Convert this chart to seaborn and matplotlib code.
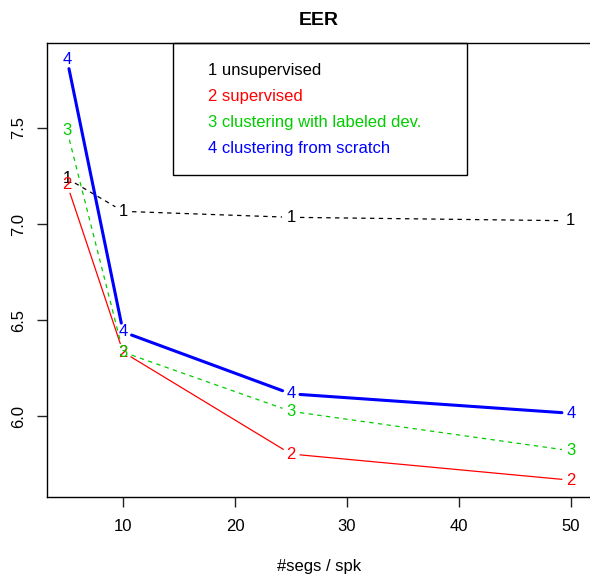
"""
EER vs number of segments per speaker, R matplot-style (type="b") recreated with seaborn.
"""

import numpy as np
import pandas as pd
import matplotlib
matplotlib.use("Agg")
import matplotlib.pyplot as plt
import seaborn as sns

segs_per_spk = [5, 10, 25, 50]
eer_unsupervised = [7.237, 7.066, 7.035, 7.017]
eer_supervised = [7.205, 6.334, 5.804, 5.668]
eer_clust_labeled = [7.484, 6.334, 6.026, 5.821]
eer_clust_scratch = [7.854, 6.439, 6.117, 6.016]

series_names = ["1 unsupervised", "2 supervised",
                "3 clustering with labeled dev.", "4 clustering from scratch"]
series_marks = ["1", "2", "3", "4"]
series_values = [eer_unsupervised, eer_supervised, eer_clust_labeled, eer_clust_scratch]
colors = ["#000000", "#FF0000", "#00CD00", "#0000FF"]
dashes = [(3.5, 3.5), "", (3.5, 3.5), ""]
widths = [0.9, 0.9, 0.9, 2.2]

GAP_PX = 9  # R type="b" leaves a gap round each point label
FS = 12


def pad_range(vals, frac=0.04):
    lo, hi = min(vals), max(vals)
    d = (hi - lo) * frac
    return lo - d, hi + d


def gapped_segments(ax, xs, ys, name):
    """Split a series into segments shortened at both ends (in screen pixels)."""
    rows = []
    pts = ax.transData.transform(np.column_stack([xs, ys]))
    inv = ax.transData.inverted()
    for i in range(len(xs) - 1):
        p0, p1 = pts[i], pts[i + 1]
        v = p1 - p0
        n = np.hypot(*v)
        if n <= 2 * GAP_PX:
            continue
        u = v / n
        a = inv.transform(p0 + u * GAP_PX)
        b = inv.transform(p1 - u * GAP_PX)
        rows.append({"series": name, "seg": f"{name}-{i}", "order": 0, "x": a[0], "y": a[1]})
        rows.append({"series": name, "seg": f"{name}-{i}", "order": 1, "x": b[0], "y": b[1]})
    return rows


def main():
    sns.set_style("ticks")
    plt.rcParams["font.family"] = ["Liberation Sans", "DejaVu Sans"]
    plt.rcParams["text.color"] = "black"
    plt.rcParams["axes.labelcolor"] = "black"
    plt.rcParams["xtick.color"] = "black"
    plt.rcParams["ytick.color"] = "black"

    fig = plt.figure(figsize=(5.9, 5.79), dpi=100)
    ax = fig.add_axes([47 / 590, 82 / 579, 544 / 590, 454 / 579])

    all_y = [v for s in series_values for v in s]
    ax.set_xlim(*pad_range(segs_per_spk))
    ax.set_ylim(*pad_range(all_y))

    rows = []
    for name, vals in zip(series_names, series_values):
        rows += gapped_segments(ax, segs_per_spk, vals, name)
    seg_df = pd.DataFrame(rows)

    sns.lineplot(data=seg_df, x="x", y="y", hue="series", style="series", size="series",
                 units="seg", estimator=None, sort=False,
                 hue_order=series_names, style_order=series_names, size_order=series_names,
                 palette=dict(zip(series_names, colors)),
                 dashes=dict(zip(series_names, dashes)),
                 sizes=dict(zip(series_names, widths)),
                 legend=False, ax=ax)

    for mark, vals, col in zip(series_marks, series_values, colors):
        for x, y in zip(segs_per_spk, vals):
            ax.text(x, y, mark, color=col, fontsize=FS, ha="center", va="center")

    # same limits again, lineplot may have touched them
    ax.set_xlim(*pad_range(segs_per_spk))
    ax.set_ylim(*pad_range(all_y))

    ax.set_xticks([10, 20, 30, 40, 50])
    ax.set_yticks([6.0, 6.5, 7.0, 7.5])
    ax.set_yticklabels(["6.0", "6.5", "7.0", "7.5"], rotation=90, va="center")
    ax.tick_params(axis="both", direction="out", length=7, width=1, labelsize=FS,
                   color="#222222")
    ax.tick_params(axis="x", pad=9)
    ax.tick_params(axis="y", pad=8)
    for side in ["left", "top", "bottom", "right"]:
        ax.spines[side].set_visible(True)
        ax.spines[side].set_linewidth(1)
        ax.spines[side].set_color("black")

    ax.set_xlabel("#segs / spk", fontsize=FS, labelpad=18)
    ax.set_ylabel("")
    ax.set_title("EER", fontsize=14, fontweight="bold", pad=13)

    # legend as in R: text only, boxed
    ax.add_patch(plt.Rectangle((0.231, 0.709), 0.541, 0.291, transform=ax.transAxes,
                               fill=False, edgecolor="black", linewidth=1, clip_on=False))
    for i, (name, col) in enumerate(zip(series_names, colors)):
        ax.text(0.2965, 0.940 - i * 0.0573, name, color=col, fontsize=FS,
                ha="left", va="center", transform=ax.transAxes)

    fig.savefig("out.png", dpi=100)


if __name__ == "__main__":
    main()
